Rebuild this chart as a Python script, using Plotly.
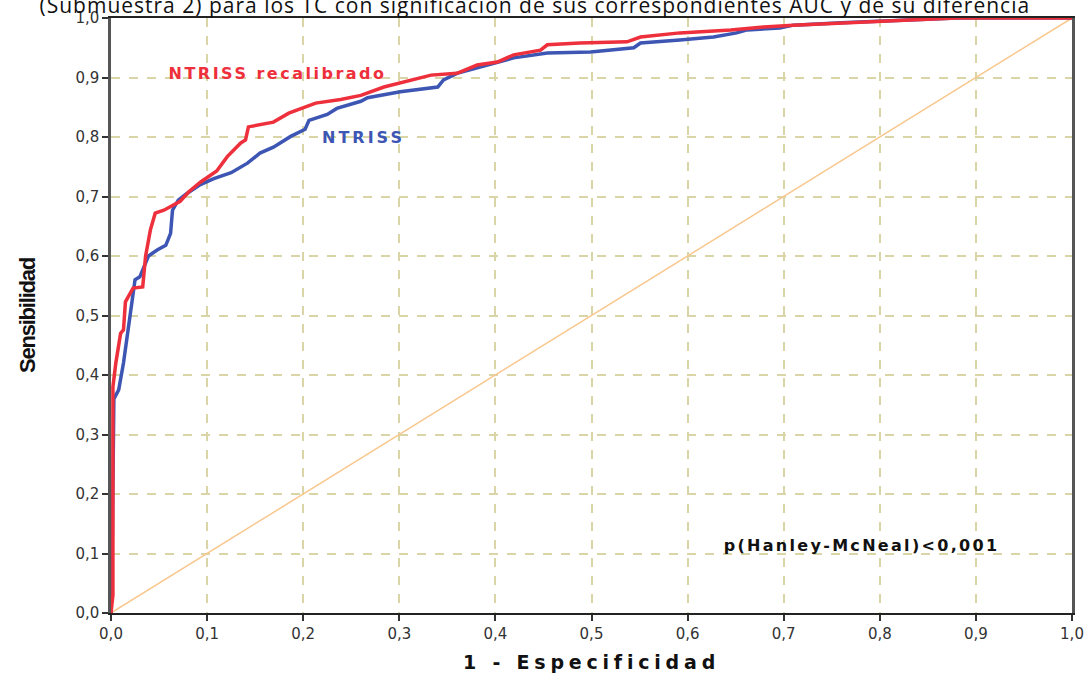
import plotly.graph_objects as go

# ROC curve for NTRISS (1 - especificidad, sensibilidad)
fpr_ntriss = [0.0, 0.001, 0.003, 0.008, 0.013, 0.018, 0.022, 0.025, 0.030, 0.039, 0.048,
              0.057, 0.062, 0.064, 0.070, 0.079, 0.093, 0.107, 0.125, 0.142, 0.155, 0.169,
              0.187, 0.202, 0.206, 0.225, 0.235, 0.260, 0.267, 0.301, 0.340, 0.346, 0.360,
              0.384, 0.419, 0.454, 0.499, 0.544, 0.551, 0.592, 0.627, 0.651, 0.662, 0.696,
              0.710, 0.760, 0.820, 0.880, 1.0]
tpr_ntriss = [0.0, 0.07, 0.36, 0.375, 0.42, 0.476, 0.521, 0.560, 0.565, 0.600, 0.610,
              0.618, 0.638, 0.677, 0.694, 0.705, 0.720, 0.730, 0.740, 0.756, 0.773, 0.783,
              0.801, 0.813, 0.828, 0.838, 0.848, 0.860, 0.866, 0.876, 0.884, 0.896, 0.907,
              0.918, 0.933, 0.941, 0.943, 0.950, 0.958, 0.963, 0.968, 0.975, 0.980, 0.983,
              0.988, 0.992, 0.996, 1.0, 1.0]

# ROC curve for NTRISS recalibrado
fpr_recal = [0.0, 0.002, 0.002, 0.005, 0.010, 0.013, 0.015, 0.023, 0.033, 0.036, 0.041,
             0.046, 0.055, 0.072, 0.081, 0.093, 0.110, 0.121, 0.135, 0.140, 0.143, 0.169,
             0.185, 0.213, 0.239, 0.260, 0.284, 0.312, 0.333, 0.360, 0.381, 0.402, 0.419,
             0.447, 0.454, 0.488, 0.537, 0.551, 0.592, 0.645, 0.679, 0.710, 0.760, 0.820,
             0.880, 1.0]
tpr_recal = [0.0, 0.03, 0.38, 0.42, 0.47, 0.476, 0.523, 0.546, 0.548, 0.600, 0.644,
             0.672, 0.677, 0.692, 0.708, 0.724, 0.743, 0.767, 0.790, 0.795, 0.817, 0.825,
             0.840, 0.857, 0.863, 0.870, 0.884, 0.896, 0.904, 0.907, 0.921, 0.926, 0.938,
             0.946, 0.955, 0.958, 0.960, 0.968, 0.975, 0.980, 0.985, 0.988, 0.992, 0.996,
             1.0, 1.0]

# Reference line
diag = [0.0, 1.0]

ticks = [i / 10 for i in range(11)]
tick_text = ["0,0", "0,1", "0,2", "0,3", "0,4", "0,5", "0,6", "0,7", "0,8", "0,9", "1,0"]

RED = "#ee2f3c"
BLUE = "#3d55b3"
BOLD_WIDE = "DejaVu Sans, Verdana, sans-serif"

fig = go.Figure()
fig.add_trace(go.Scatter(x=diag, y=diag, mode="lines",
                         line=dict(color="#f9c78e", width=1.5), hoverinfo="skip"))
fig.add_trace(go.Scatter(x=fpr_ntriss, y=tpr_ntriss, mode="lines",
                         line=dict(color=BLUE, width=3.5), name="NTRISS"))
fig.add_trace(go.Scatter(x=fpr_recal, y=tpr_recal, mode="lines",
                         line=dict(color=RED, width=3.5), name="NTRISS recalibrado"))

axis_common = dict(
    range=[0, 1], tickvals=ticks, ticktext=tick_text, automargin=False,
    showgrid=True, gridcolor="#d9d5a6", gridwidth=1.5, griddash="dash",
    showline=True, mirror=True, zeroline=False,
    ticks="outside", ticklen=6, tickwidth=2, tickcolor="#333333",
    tickfont=dict(family="DejaVu Sans, sans-serif", size=15, color="#333333"),
)

fig.update_xaxes(**axis_common, linecolor="#222222", linewidth=2,
                 title=dict(text="<b>1 - Especificidad</b>", standoff=20,
                            font=dict(family=BOLD_WIDE, size=19, color="#111111")))
fig.update_yaxes(**axis_common, linecolor="#555555", linewidth=2.5,
                 title=dict(text="<b>Sensibilidad</b>", standoff=34,
                            font=dict(family="Liberation Sans, Arial, sans-serif",
                                      size=22, color="#111111")))

# Curve labels and test result
fig.add_annotation(x=0.1736, y=0.906, xref="x", yref="y", text="<b>NTRISS recalibrado</b>",
                   showarrow=False, xanchor="center", yanchor="middle",
                   font=dict(family=BOLD_WIDE, size=16, color=RED))
fig.add_annotation(x=0.263, y=0.80, xref="x", yref="y", text="<b>NTRISS</b>",
                   showarrow=False, xanchor="center", yanchor="middle",
                   font=dict(family=BOLD_WIDE, size=16, color=BLUE))
fig.add_annotation(x=0.781, y=0.114, xref="x", yref="y", text="<b>p(Hanley-McNeal)<0,001</b>",
                   showarrow=False, xanchor="center", yanchor="middle",
                   font=dict(family=BOLD_WIDE, size=16, color="#111111"))

# Heading line, partly above the visible page
fig.add_annotation(x=0.441, y=1.0, xref="paper", yref="paper",
                   text="(Submuestra 2) para los TC con significación de sus correspondientes AUC y de su diferencia",
                   showarrow=False, xanchor="center", yanchor="bottom", yshift=-3,
                   font=dict(family="Open Sans, Liberation Sans, sans-serif", size=21, color="#111111"))

fig.update_layout(
    width=1091, height=673,
    margin=dict(l=111, r=19, t=18, b=60),
    paper_bgcolor="white", plot_bgcolor="white",
    showlegend=False,
)

# Letter spacing for the wide, tracked labels
post = """
var gd = document.getElementById('{plot_id}');
function track(sel, idx, v) {
  var els = gd.querySelectorAll(sel);
  if (els[idx]) { els[idx].style.letterSpacing = v; }
}
track('.annotation-text', 0, '2.5px');
track('.annotation-text', 1, '3px');
track('.annotation-text', 2, '2.3px');
track('.annotation-text', 3, '1px');
track('.xtitle', 0, '4.8px');
track('.ytitle', 0, '-1.2px');
"""

fig.write_html("out.html", post_script=post)
